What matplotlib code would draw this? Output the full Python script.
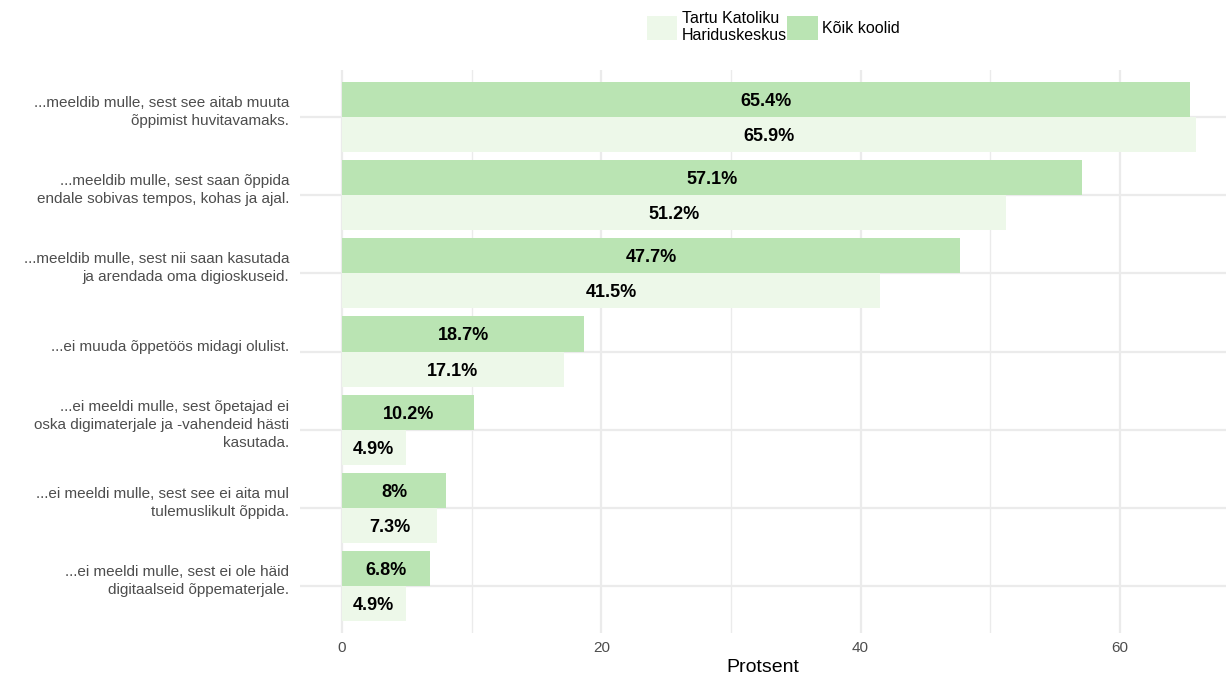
import numpy as np
import matplotlib
matplotlib.use('Agg')
from matplotlib import pyplot as plt
from matplotlib.patches import Patch
from matplotlib.transforms import ScaledTranslation

plt.rcParams['font.family'] = ['Liberation Sans', 'DejaVu Sans']

# categories, top to bottom
categories = [
    '...meeldib mulle, sest see aitab muuta\nõppimist huvitavamaks.',
    '...meeldib mulle, sest saan õppida\nendale sobivas tempos, kohas ja ajal.',
    '...meeldib mulle, sest nii saan kasutada\nja arendada oma digioskuseid.',
    '...ei muuda õppetöös midagi olulist.',
    '...ei meeldi mulle, sest õpetajad ei\noska digimaterjale ja -vahendeid hästi\nkasutada.',
    '...ei meeldi mulle, sest see ei aita mul\ntulemuslikult õppida.',
    '...ei meeldi mulle, sest ei ole häid\ndigitaalseid õppematerjale.',
]
koik = [65.4, 57.1, 47.7, 18.7, 10.2, 8, 6.8]
tartu = [65.9, 51.2, 41.5, 17.1, 4.9, 7.3, 4.9]

col_koik = '#bae4b3'
col_tartu = '#edf8e9'


def fmt(v):
    s = ('%.1f' % v).rstrip('0').rstrip('.')
    return s + '%'


def main():
    fig = plt.figure(figsize=(12.26, 6.79), dpi=100)
    ax = fig.add_axes([300/1226, 1 - 633/679, 926/1226, (633-70)/679])

    n = len(categories)
    y = np.arange(n)
    h = 0.45
    ax.barh(y - h/2, koik, height=h, color=col_koik, zorder=2)
    ax.barh(y + h/2, tartu, height=h, color=col_tartu, zorder=2)

    for i in range(n):
        ax.text(koik[i]/2, y[i] - h/2, fmt(koik[i]), ha='center', va='center_baseline',
                fontsize=13, fontweight='bold', color='black', zorder=3)
        ax.text(tartu[i]/2, y[i] + h/2, fmt(tartu[i]), ha='center', va='center_baseline',
                fontsize=13, fontweight='bold', color='black', zorder=3)

    ax.set_ylim(n - 1 + 0.6, -0.6)
    ax.set_xlim(-3.25, 68.2)
    ax.set_yticks(y)
    ax.set_yticklabels([])
    # category labels sit a bit above the gridline, like in ggplot
    tr = ax.get_yaxis_transform() + ScaledTranslation(-11/100, 5/100, fig.dpi_scale_trans)
    for i in range(n):
        ax.text(0, y[i], categories[i], transform=tr, ha='right', va='center',
                fontsize=11, color='#4d4d4d', linespacing=1.38, clip_on=False)
    ax.set_xticks([0, 20, 40, 60])
    ax.set_xticks([10, 30, 50], minor=True)
    ax.tick_params(axis='x', labelsize=11, labelcolor='#4d4d4d', length=0, pad=6)
    ax.tick_params(axis='x', which='minor', length=0)
    ax.tick_params(axis='y', length=0)
    ax.set_xlabel('Protsent', fontsize=14, labelpad=3)

    ax.grid(True, which='major', color='#ebebeb', linewidth=1.6, zorder=0)
    ax.grid(True, which='minor', axis='x', color='#ebebeb', linewidth=1.0, zorder=0)
    ax.set_axisbelow(True)
    for s in ax.spines.values():
        s.set_visible(False)

    handles = [Patch(facecolor=col_tartu, edgecolor='none', label='Tartu Katoliku\nHariduskeskus'),
               Patch(facecolor=col_koik, edgecolor='none', label='Kõik koolid')]
    fig.legend(handles=handles, loc='upper center', bbox_to_anchor=(0.631, 1.005),
               ncol=2, frameon=False, fontsize=11.5, handlelength=1.9, handleheight=1.9,
               handletextpad=0.3, columnspacing=0.0, labelspacing=0.2)

    fig.savefig('out.png', dpi=100)


if __name__ == '__main__':
    main()
